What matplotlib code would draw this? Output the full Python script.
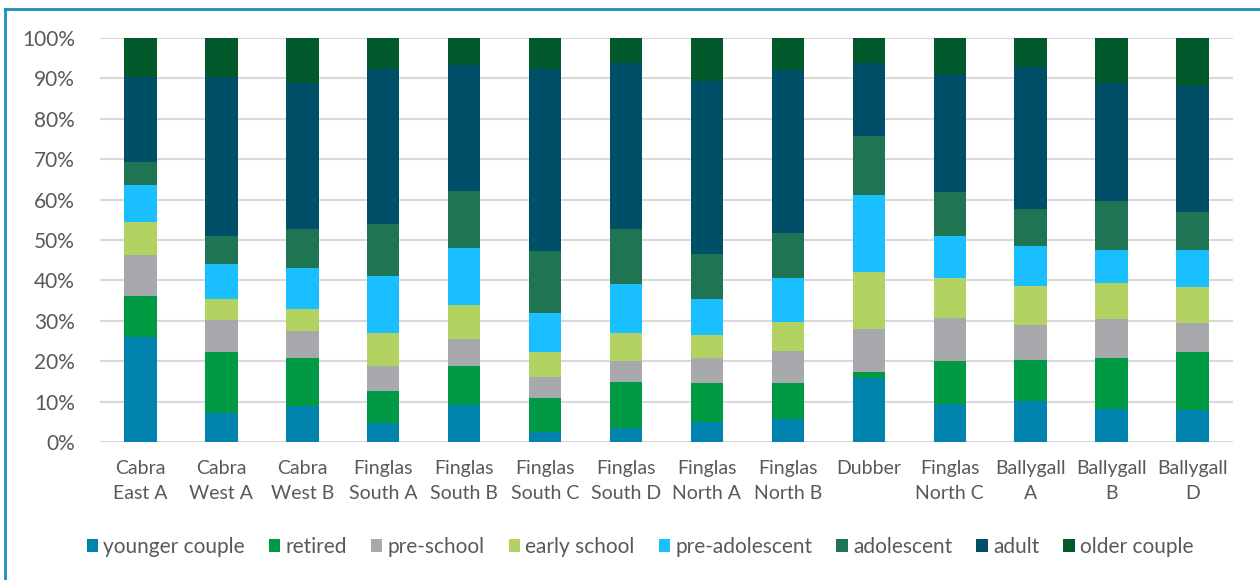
import matplotlib
matplotlib.use("Agg")
import matplotlib.pyplot as plt
from matplotlib.lines import Line2D
import numpy as np

categories = ["Cabra\nEast A", "Cabra\nWest A", "Cabra\nWest B", "Finglas\nSouth A", "Finglas\nSouth B",
              "Finglas\nSouth C", "Finglas\nSouth D", "Finglas\nNorth A", "Finglas\nNorth B", "Dubber",
              "Finglas\nNorth C", "Ballygall\nA", "Ballygall\nB", "Ballygall\nD"]

younger_couple = [26.0, 7.3, 8.8, 4.7, 9.2, 2.5, 3.4, 5.0, 5.7, 15.8, 9.5, 10.1, 8.2, 7.9]
retired        = [10.1, 14.9, 12.1, 8.0, 9.5, 8.3, 11.4, 9.6, 8.9, 1.6, 10.5, 10.2, 12.7, 14.3]
pre_school     = [10.1, 7.9, 6.6, 6.0, 6.9, 5.4, 5.2, 6.3, 7.9, 10.5, 10.7, 8.6, 9.5, 7.3]
early_school   = [8.3, 5.4, 5.5, 8.3, 8.3, 6.0, 7.0, 5.7, 7.3, 14.2, 9.9, 9.8, 8.9, 8.8]
pre_adolescent = [9.2, 8.5, 10.1, 14.2, 14.0, 9.8, 12.0, 8.9, 10.8, 19.1, 10.4, 9.8, 8.3, 9.3]
adolescent     = [5.7, 7.0, 9.5, 12.7, 14.2, 15.2, 13.6, 11.1, 11.1, 14.6, 10.8, 9.2, 12.0, 9.4]
adult          = [21.0, 39.4, 36.3, 38.4, 31.1, 45.1, 41.3, 42.8, 40.3, 18.0, 29.2, 35.0, 29.3, 31.2]
older_couple   = [9.6, 9.6, 11.1, 7.7, 6.8, 7.7, 6.1, 10.6, 8.0, 6.2, 9.0, 7.3, 11.1, 11.8]

series_names = ["younger couple", "retired", "pre-school", "early school",
                "pre-adolescent", "adolescent", "adult", "older couple"]
series = [younger_couple, retired, pre_school, early_school,
          pre_adolescent, adolescent, adult, older_couple]
colors = ["#0083AD", "#009A44", "#A7A9AC", "#B2D362",
          "#1ABFFF", "#1F7553", "#004F69", "#005A2B"]

plt.rcParams['font.family'] = ['Lato', 'DejaVu Sans']

fig = plt.figure(figsize=(12.6, 5.8), dpi=100)
ax = fig.add_axes([100/1260, 1-442/580, (1233-100)/1260, (442-38)/580])

x = np.arange(len(categories))
bottom = np.zeros(len(categories))
tot = np.array([sum(s[i] for s in series) for i in range(len(categories))])
for name, vals, c in zip(series_names, series, colors):
    v = np.array(vals, dtype=float)
    pct = v / tot * 100
    ax.bar(x, pct, 0.4, bottom=bottom, color=c, label=name, zorder=3)
    bottom += pct

ax.set_xlim(-0.5, len(categories) - 0.5)
ax.set_ylim(0, 100)
ax.set_yticks(np.arange(0, 101, 10))
ax.set_yticklabels([f"{t}%" for t in range(0, 101, 10)], fontsize=15, color="#595959")
ax.set_xticks(x)
ax.set_xticklabels(categories, fontsize=14, color="#595959", linespacing=1.6)
ax.tick_params(axis='both', length=0)
ax.tick_params(axis='x', pad=13)
ax.tick_params(axis='y', pad=18)
ax.grid(axis='y', color="#D9D9D9", linewidth=1.5, zorder=0)
for s in ax.spines.values():
    s.set_visible(False)

leg = fig.legend(loc='center', bbox_to_anchor=(640/1260, 1-547/580), ncol=8, frameon=False,
                 fontsize=15, handlelength=0.55, handleheight=0.55, handletextpad=0.25,
                 columnspacing=1.15, labelcolor="#595959")

fig.add_artist(Line2D([5/1260, 5/1260], [0, 1-9/580], color="#1A8FBF", linewidth=2))
fig.add_artist(Line2D([5/1260, 1], [1-9/580, 1-9/580], color="#1A8FBF", linewidth=2))

fig.savefig("out.png", dpi=100, facecolor="white")
